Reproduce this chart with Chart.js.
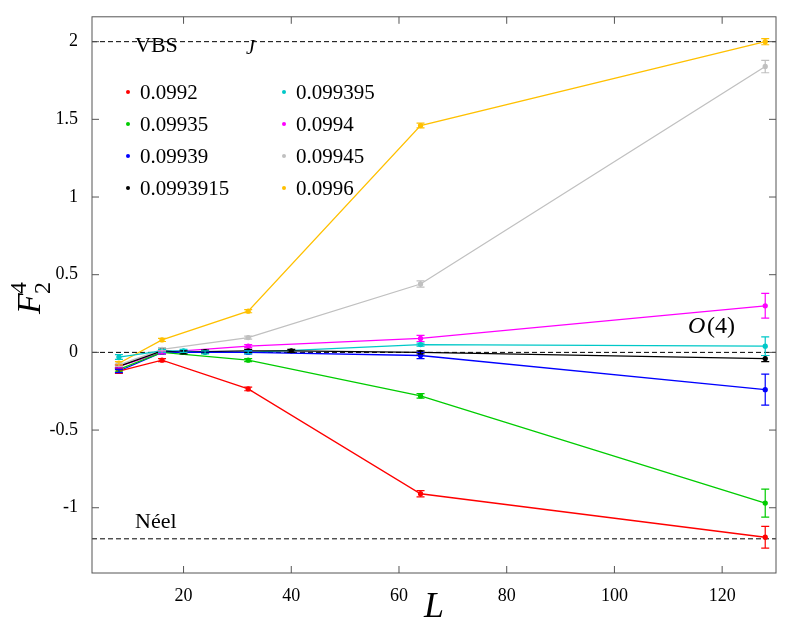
<!DOCTYPE html><html><head><script src="https://cdn.jsdelivr.net/npm/chart.js@4"></script>
<style>body{margin:0;background:#fff}#w{width:789px;height:629px}</style></head><body><div id="w"><canvas id="c"></canvas></div>
<script>
const names=['0.0992','0.09935','0.09939','0.0993915','0.099395','0.0994','0.09945','0.0996'];
const colors=['#ff0000','#00cc00','#0000ff','#000000','#00c8c8','#ff00ff','#c0c0c0','#ffc000'];
const Ls=[[8,16,32,64,128],[8,16,32,64,128],[8,16,32,64,128],[8,16,20,24,32,40,64,128],[8,16,20,24,32,64,128],[8,16,32,64,128],[8,16,32,64,128],[8,16,32,64,128]];
const vals=[[-0.12,-0.05,-0.235,-0.91,-1.19],[-0.11,0.0,-0.05,-0.28,-0.97],[-0.12,0.0,0.0,-0.02,-0.24],[-0.09,0.01,0.0,0.005,0.01,0.01,0.0,-0.04],[-0.03,0.01,0.01,0.0,0.0,0.05,0.04],[-0.09,0.0,0.04,0.09,0.30],[-0.08,0.02,0.095,0.44,1.84],[-0.07,0.08,0.265,1.46,2.0]];
const errs=[[0.015,0.01,0.012,0.02,0.07],[0.01,0.01,0.01,0.015,0.09],[0.01,0.01,0.01,0.02,0.1],[0.01,0.01,0.01,0.01,0.01,0.01,0.01,0.02],[0.015,0.01,0.01,0.01,0.01,0.01,0.06],[0.01,0.01,0.01,0.02,0.08],[0.01,0.01,0.01,0.02,0.04],[0.01,0.01,0.01,0.015,0.02]];
const refLines=[2,0,-1.2];
const datasets=names.map((n,i)=>({label:n,data:Ls[i].map((x,j)=>({x:x,y:vals[i][j],e:errs[i][j]})),borderColor:colors[i],backgroundColor:colors[i],borderWidth:1.3,pointRadius:2,pointHoverRadius:2}));
const serif='"Liberation Serif","DejaVu Serif",serif';
const plug={id:'p',
beforeDatasetsDraw(ch){const c=ch.ctx,x=ch.scales.x,y=ch.scales.y,a=ch.chartArea;
 c.save();c.strokeStyle='#000';c.lineWidth=1;c.setLineDash([5,3]);
 refLines.forEach(v=>{const py=y.getPixelForValue(v);c.beginPath();c.moveTo(a.left,py);c.lineTo(a.right,py);c.stroke();});
 c.restore();},
afterDatasetsDraw(ch){const c=ch.ctx,x=ch.scales.x,y=ch.scales.y,a=ch.chartArea;
 c.save();
 ch.data.datasets.forEach(d=>{c.strokeStyle=d.borderColor;c.lineWidth=1.2;d.data.forEach(p=>{const px=x.getPixelForValue(p.x),t=y.getPixelForValue(p.y+p.e),b=y.getPixelForValue(p.y-p.e);c.beginPath();c.moveTo(px,t);c.lineTo(px,b);c.moveTo(px-4,t);c.lineTo(px+4,t);c.moveTo(px-4,b);c.lineTo(px+4,b);c.stroke();});});
 c.strokeStyle='#555';c.lineWidth=1;c.strokeRect(a.left,a.top,a.right-a.left,a.bottom-a.top);
 c.beginPath();
 for(let v=20;v<=120;v+=20){const px=x.getPixelForValue(v);c.moveTo(px,a.bottom);c.lineTo(px,a.bottom-7);c.moveTo(px,a.top);c.lineTo(px,a.top+7);}
 for(let v=-1;v<=2;v+=0.5){const py=y.getPixelForValue(v);c.moveTo(a.left,py);c.lineTo(a.left+7,py);c.moveTo(a.right,py);c.lineTo(a.right-7,py);}
 c.stroke();
 c.fillStyle='#000';c.font='22px '+serif;c.textBaseline='alphabetic';
 c.fillText('VBS',135,52);c.fillText('Néel',135,528);
 c.font='italic 20px '+serif;c.fillText('J',246,54);
 c.font='italic 24px '+serif;c.fillText('O',688,333);c.font='24px '+serif;c.fillText('(4)',707,333);
 c.font='21px '+serif;
 names.forEach((n,i)=>{const col=i<4?0:1,row=i%4;const lx=col?284:128,ly=99+row*32;c.fillStyle=colors[i];c.beginPath();c.arc(lx,ly-7,2,0,7);c.fill();c.fillStyle='#000';c.fillText(n,lx+12,ly);});
 c.save();c.translate(40,300);c.rotate(-Math.PI/2);c.font='italic 34px '+serif;c.fillText('F',-14,0);c.font='24px '+serif;c.fillText('2',6,10);c.fillText('4',6,-14);c.restore();
 c.restore();}};
new Chart(document.getElementById('c'),{type:'line',data:{datasets},plugins:[plug],
options:{responsive:true,maintainAspectRatio:false,animation:false,layout:{padding:{top:-13,right:13,left:0,bottom:0}},
plugins:{legend:{display:false},tooltip:{enabled:false}},
scales:{x:{type:'linear',min:3,max:130,afterBuildTicks(s){s.ticks=[20,40,60,80,100,120].map(v=>({value:v}));},grid:{display:false},border:{display:false},
 ticks:{font:{size:18,family:serif},color:'#000',padding:4},
 title:{display:true,text:'L',font:{size:36,style:'italic',family:serif},color:'#000',padding:{top:-10,bottom:0}},afterFit(s){s.height=56;}},
 y:{min:-1.42,max:2.16,afterBuildTicks(s){s.ticks=[-1,-0.5,0,0.5,1,1.5,2].map(v=>({value:v}));},grid:{display:false},border:{display:false},
 ticks:{font:{size:18,family:serif},color:'#000',padding:6,callback:v=>String(v)},
 title:{display:false},afterFit(s){s.width=92;}}}}});
</script></body></html>
